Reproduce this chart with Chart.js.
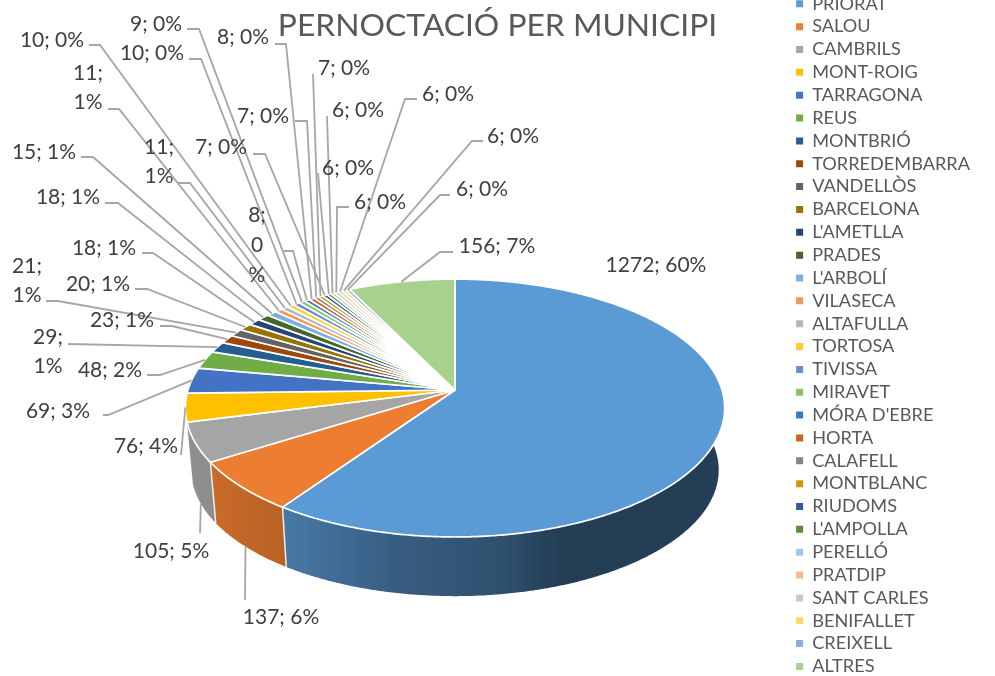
<!DOCTYPE html>
<html>
<head>
<meta charset="utf-8">
<script src="https://cdn.jsdelivr.net/npm/chart.js@4"></script>
<style>
html,body{margin:0;padding:0;background:#fff;overflow:hidden;width:995px;height:676px}
canvas{position:absolute;left:0;top:-20px}
</style>
</head>
<body>
<canvas id="c" width="995" height="716"></canvas>
<script>
const chartTitle = "PERNOCTACIÓ PER MUNICIPI";
const categories = ["PRIORAT","SALOU","CAMBRILS","MONT-ROIG","TARRAGONA","REUS","MONTBRIÓ","TORREDEMBARRA","VANDELLÒS","BARCELONA","L'AMETLLA","PRADES","L'ARBOLÍ","VILASECA","ALTAFULLA","TORTOSA","TIVISSA","MIRAVET","MÓRA D'EBRE","HORTA","CALAFELL","MONTBLANC","RIUDOMS","L'AMPOLLA","PERELLÓ","PRATDIP","SANT CARLES","BENIFALLET","CREIXELL","ALTRES"];
const values = [1272,137,105,76,69,48,29,23,21,20,18,18,15,11,11,10,10,9,8,8,7,7,7,6,6,6,6,6,6,156];
const colors = ["#5B9BD5","#ED7D31","#A5A5A5","#FFC000","#4472C4","#70AD47","#255E91","#9E480E","#636363","#997300","#264478","#43682B","#7CAFDD","#F1975A","#B7B7B7","#FFCD33","#698ED0","#8CC168","#327DC2","#D26012","#848484","#CC9A00","#335AA1","#5A8A39","#A3C7E7","#F6B98F","#C9C9C9","#FFD966","#8FAADC","#A9D18E"];

// Layout of the data labels, separate from the data: text centre, leader start, elbow, line breaks.
const labelLayout = [
 {t:[656,265]},
 {t:[281,617],s:[245,600],base:true},
 {t:[171,551],s:[200,533],base:true},
 {t:[146,446],s:[181,455]},
 {t:[58,411],s:[103,415],e:[108,415]},
 {t:[110,370],s:[147,375],e:[160,375]},
 {t:[48,352],s:[68,344],br:2},
 {t:[122,320],s:[160,326],e:[172,326]},
 {t:[27,281],s:[46,301],e:[58,301],br:2},
 {t:[98,284],s:[135,289],e:[147,289]},
 {t:[104,248],s:[142,253],e:[153,253]},
 {t:[68,197],s:[105,203],e:[118,203]},
 {t:[44,152],s:[81,157],e:[93,157]},
 {t:[88,88],s:[108,109],e:[119,109],br:2},
 {t:[159,162],s:[178,183],e:[190,183],br:2},
 {t:[52,40],s:[89,45],e:[100,45]},
 {t:[152,53],s:[189,59],e:[201,59]},
 {t:[156,24],s:[187,29],e:[199,29]},
 {t:[257,245],s:[283,251],e:[293,251],br:3},
 {t:[243,37],s:[275,44],e:[286,44]},
 {t:[263,116],s:[295,121],e:[307,121]},
 {t:[344,68],s:[313,74]},
 {t:[221,147],s:[253,154],e:[265,154]},
 {t:[348,168],s:[318,173]},
 {t:[358,110],s:[327,116]},
 {t:[380,202],s:[349,207],e:[337,207]},
 {t:[448,94],s:[417,99],e:[405,99]},
 {t:[513,136],s:[483,141],e:[472,141]},
 {t:[482,189],s:[450,195],e:[440,195]},
 {t:[497,246],s:[453,252],e:[440,252]}
];

const FONT = 'Lato, Carlito, sans-serif';
const OFFSET = 20;          // the canvas starts above the page, the first legend row is cut off
const VIEW = {cx:455, cy:390, a:126.4, b:267, k:0.14};
const BASE = {dy:62, scale:0.978, pivotY:408};
const SHADE = [[190,.87],[283,.78],[400,.60],[500,.52],[560,.40],[725,.40]];

function topPoint(theta){
  const u = Math.sin(theta), v = -Math.cos(theta), w = 1 - VIEW.k*v;
  return [VIEW.cx + VIEW.b*u/w, VIEW.cy + VIEW.a*v/w];
}
function basePoint(theta){
  const p = topPoint(theta);
  return [VIEW.cx + (p[0]-VIEW.cx)*BASE.scale, BASE.pivotY + BASE.dy + (p[1]-BASE.pivotY)*BASE.scale];
}
function shade(hex,f){
  const n = parseInt(hex.slice(1),16);
  return `rgb(${Math.round((n>>16&255)*f)},${Math.round((n>>8&255)*f)},${Math.round((n&255)*f)})`;
}
function samples(a0,a1){
  const n = Math.max(2, Math.ceil((a1-a0)/0.008)), out=[];
  for(let i=0;i<=n;i++) out.push(a0+(a1-a0)*i/n);
  return out;
}

const pie3d = {
  id:'pie3d',
  beforeDatasetDraw(chart,args){
    const ctx = chart.ctx, arcs = chart.getDatasetMeta(0).data;
    const ang = arcs.map(el=>{
      const p = el.getProps(['startAngle','endAngle'],true);
      return [p.startAngle+Math.PI/2, p.endAngle+Math.PI/2];
    });
    ctx.save();
    ctx.translate(0,OFFSET);
    // outer wall: only pieces that end on the front of the pie show a wall
    arcs.forEach((el,i)=>{
      const [a0,a1] = ang[i];
      if(-Math.cos(a1)<0.1) return;
      const g = ctx.createLinearGradient(SHADE[0][0],0,SHADE[SHADE.length-1][0],0);
      const span = SHADE[SHADE.length-1][0]-SHADE[0][0];
      SHADE.forEach(s=>g.addColorStop((s[0]-SHADE[0][0])/span, shade(colors[i],s[1])));
      const th = samples(a0,a1);
      ctx.beginPath();
      th.forEach((t,j)=>{const p=topPoint(t); j?ctx.lineTo(p[0],p[1]):ctx.moveTo(p[0],p[1]);});
      th.slice().reverse().forEach(t=>{const p=basePoint(t); ctx.lineTo(p[0],p[1]);});
      ctx.closePath();
      ctx.fillStyle = g; ctx.fill();
    });
    // seams between wall pieces
    ctx.strokeStyle='rgba(255,255,255,.85)'; ctx.lineWidth=1.5;
    arcs.forEach((el,i)=>{
      const t=ang[i][1], p=topPoint(t), q=basePoint(t);
      if(-Math.cos(t)<0.3) return;
      ctx.beginPath(); ctx.moveTo(p[0],p[1]); ctx.lineTo(q[0],q[1]); ctx.stroke();
    });
    // top face
    ctx.lineJoin='round';
    arcs.forEach((el,i)=>{
      const [a0,a1] = ang[i];
      ctx.beginPath();
      ctx.moveTo(VIEW.cx,VIEW.cy);
      samples(a0,a1).forEach(t=>{const p=topPoint(t); ctx.lineTo(p[0],p[1]);});
      ctx.closePath();
      ctx.fillStyle=colors[i]; ctx.fill();
      ctx.strokeStyle='#fff'; ctx.lineWidth=1.7; ctx.stroke();
    });
    // leaders
    ctx.strokeStyle='#A6A6A6'; ctx.lineWidth=1.8; ctx.lineJoin='miter';
    labelLayout.forEach((l,i)=>{
      if(!l.s) return;
      const mid=(ang[i][0]+ang[i][1])/2, end = l.base?basePoint(mid):topPoint(mid);
      ctx.beginPath(); ctx.moveTo(l.s[0],l.s[1]);
      if(l.e) ctx.lineTo(l.e[0],l.e[1]);
      ctx.lineTo(end[0],end[1]); ctx.stroke();
    });
    // value labels
    const total = values.reduce((a,b)=>a+b,0);
    ctx.font = '21px '+FONT; ctx.fillStyle='#404040';
    ctx.textAlign='center'; ctx.textBaseline='middle';
    labelLayout.forEach((l,i)=>{
      const v=values[i], pct=Math.round(v/total*100);
      const lines = l.br===3 ? [v+';',String(pct),'%'] : l.br===2 ? [v+';',pct+'%'] : [v+'; '+pct+'%'];
      const lh = l.br===3 ? 30 : 29;
      lines.forEach((s,j)=>ctx.fillText(s,l.t[0],l.t[1]+(j-(lines.length-1)/2)*lh));
    });
    ctx.restore();
    return false;
  }
};

new Chart(document.getElementById('c'),{
  type:'pie',
  data:{labels:categories,datasets:[{data:values,backgroundColor:colors,borderWidth:0}]},
  plugins:[pie3d],
  options:{
    responsive:false,
    animation:false,
    layout:{padding:{top:10,right:15,left:15,bottom:0}},
    plugins:{
      tooltip:{enabled:false},
      title:{display:true,text:chartTitle,color:'#595959',
        font:{family:FONT,size:31.8,weight:'normal'},
        padding:{top:17,bottom:-55.2}},
      legend:{position:'right',align:'start',
        labels:{boxWidth:7,boxHeight:7,padding:4.7,color:'#595959',
          font:{family:FONT,size:18.15},
          generateLabels(chart){
            return Chart.overrides.pie.plugins.legend.labels.generateLabels(chart)
              .map(it=>Object.assign(it,{lineWidth:0,strokeStyle:'transparent'}));
          }}}
    }
  }
});
</script>
</body>
</html>
